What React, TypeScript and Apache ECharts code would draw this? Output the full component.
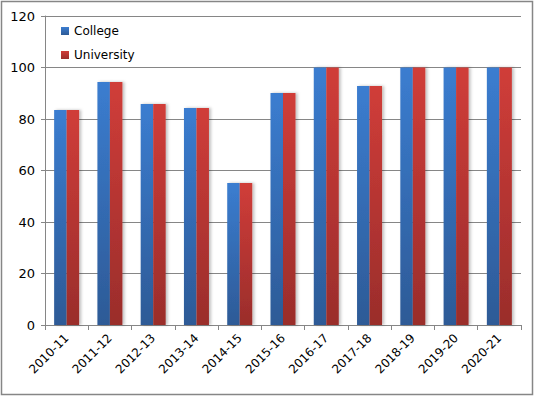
import React, { useEffect, useRef } from "react";
import * as echarts from "echarts";

const categories = ["2010-11", "2011-12", "2012-13", "2013-14", "2014-15", "2015-16", "2016-17", "2017-18", "2018-19", "2019-20", "2020-21"];
const collegeValues = [83.5, 94.4, 85.8, 84.3, 55.1, 90.1, 100, 92.8, 100, 100, 100];
const universityValues = [83.5, 94.4, 85.8, 84.3, 55.1, 90.1, 100, 92.8, 100, 100, 100];
const seriesNames = ["College", "University"];

const FONT = "Tahoma, 'DejaVu Sans', Verdana, sans-serif";

function grad(top: string, bottom: string) {
  return new echarts.graphic.LinearGradient(0, 0, 0, 1, [
    { offset: 0, color: top },
    { offset: 1, color: bottom },
  ]);
}

export default function App() {
  const ref = useRef<HTMLDivElement>(null);
  useEffect(() => {
    const chart = echarts.init(ref.current!, null, { renderer: "svg" });
    const itemShadow = { shadowBlur: 3, shadowColor: "rgba(0,0,0,0.25)", shadowOffsetX: 2, shadowOffsetY: 0 };
    chart.setOption({
      animation: false,
      backgroundColor: "#ffffff",
      textStyle: { fontFamily: FONT },
      graphic: [
        {
          type: "rect",
          shape: { x: 1.5, y: 1.5, width: 531, height: 393 },
          style: { fill: "none", stroke: "#868686", lineWidth: 1.5 },
          silent: true,
        },
      ],
      legend: {
        orient: "vertical",
        left: 56,
        top: 20,
        itemWidth: 8,
        itemHeight: 8,
        itemGap: 12,
        icon: "rect",
        textStyle: { fontSize: 12, color: "#000", fontFamily: FONT },
        data: seriesNames,
      },
      grid: { left: 45, right: 15, top: 16, bottom: 72 },
      xAxis: {
        type: "category",
        data: categories,
        axisLine: { lineStyle: { color: "#868686", width: 1 } },
        axisTick: { show: true, length: 5, lineStyle: { color: "#868686" } },
        axisLabel: { rotate: 45, color: "#000", fontSize: 12, fontFamily: FONT, margin: 11 },
      },
      yAxis: {
        type: "value",
        min: 0,
        max: 120,
        interval: 20,
        axisLine: { show: true, lineStyle: { color: "#868686", width: 1 } },
        axisTick: { show: true, length: 4, lineStyle: { color: "#868686" } },
        axisLabel: { color: "#000", fontSize: 13, fontFamily: FONT, margin: 10 },
        splitLine: { lineStyle: { color: "#868686", width: 1 } },
      },
      series: [
        {
          name: seriesNames[0],
          type: "bar",
          data: collegeValues,
          barWidth: 12.5,
          barGap: "0%",
          itemStyle: { color: grad("#3b7dd0", "#2d5a96"), ...itemShadow },
        },
        {
          name: seriesNames[1],
          type: "bar",
          data: universityValues,
          barWidth: 12.5,
          barGap: "0%",
          itemStyle: { color: grad("#d03d39", "#9a2d2b"), ...itemShadow },
        },
      ],
    });
    return () => chart.dispose();
  }, []);
  return (
    <div
      ref={ref}
      style={{ position: "fixed", left: 0, top: 0, width: 536, height: 397 }}
    />
  );
}
